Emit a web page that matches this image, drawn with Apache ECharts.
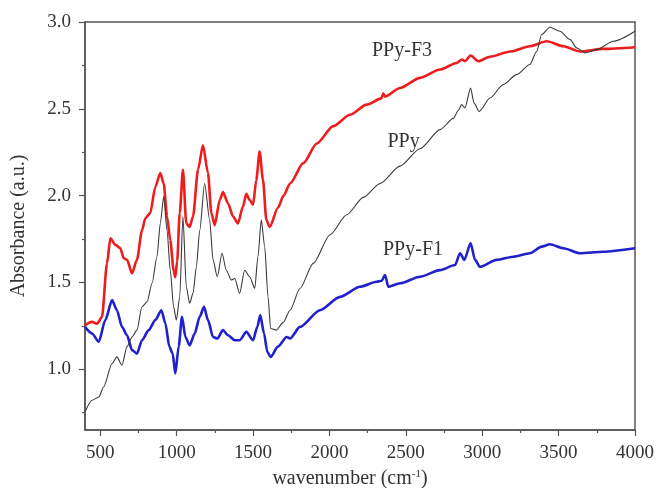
<!DOCTYPE html>
<html>
<head>
<meta charset="utf-8">
<script src="https://cdn.jsdelivr.net/npm/echarts@6/dist/echarts.min.js"></script>
<style>
  html, body { margin: 0; padding: 0; background: #fff; }
  #chart { width: 656px; height: 488px; }
</style>
</head>
<body>
<div id="chart"></div>
<script>
// FTIR spectra: wavenumber (cm-1) vs absorbance for three samples
const ppyF3Wn = [400, 446, 479, 511, 544, 566, 599, 631, 653, 675, 708, 740, 773, 795, 827, 860, 893, 915, 937, 958, 980, 991, 1003, 1020, 1041, 1063, 1085, 1107, 1140, 1172, 1205, 1227, 1249, 1282, 1303, 1336, 1369, 1401, 1434, 1456, 1478, 1500, 1521, 1543, 1565, 1587, 1609, 1663, 1700, 1742, 1829, 1917, 2025, 2134, 2244, 2340, 2352, 2364, 2462, 2593, 2724, 2833, 2866, 2888, 2924, 2974, 3051, 3182, 3312, 3422, 3531, 3640, 3792, 4000];
const ppyF3Abs = [1.254, 1.273, 1.262, 1.30, 1.61, 1.754, 1.716, 1.697, 1.64, 1.63, 1.553, 1.63, 1.80, 1.87, 1.90, 2.05, 2.13, 2.07, 1.88, 1.745, 1.57, 1.53, 1.62, 1.90, 2.149, 1.84, 1.82, 1.88, 2.15, 2.29, 2.13, 1.90, 1.83, 1.975, 2.02, 1.956, 1.88, 1.84, 1.937, 2.01, 1.975, 1.947, 2.09, 2.254, 2.09, 1.86, 1.82, 1.93, 2.0, 2.07, 2.187, 2.30, 2.40, 2.466, 2.524, 2.56, 2.59, 2.57, 2.62, 2.678, 2.726, 2.764, 2.784, 2.775, 2.807, 2.774, 2.80, 2.83, 2.86, 2.889, 2.86, 2.83, 2.845, 2.855];

const ppyWn = [400, 446, 490, 522, 577, 609, 642, 675, 708, 740, 773, 806, 839, 871, 893, 915, 937, 958, 980, 998, 1020, 1041, 1063, 1085, 1107, 1129, 1151, 1183, 1216, 1238, 1266, 1297, 1325, 1358, 1380, 1412, 1445, 1478, 1511, 1532, 1554, 1576, 1598, 1615, 1652, 1698, 1742, 1807, 1894, 2004, 2113, 2222, 2331, 2462, 2593, 2724, 2811, 2843, 2866, 2887, 2924, 2946, 2980, 3051, 3138, 3225, 3312, 3356, 3389, 3443, 3509, 3574, 3618, 3672, 3749, 3858, 4000];
const ppyAbs = [0.754, 0.821, 0.84, 0.898, 1.033, 1.071, 1.023, 1.13, 1.186, 1.225, 1.36, 1.388, 1.495, 1.648, 1.84, 1.995, 1.80, 1.57, 1.36, 1.283, 1.417, 1.88, 1.475, 1.38, 1.437, 1.59, 1.80, 2.07, 1.86, 1.63, 1.533, 1.668, 1.57, 1.514, 1.523, 1.437, 1.57, 1.533, 1.466, 1.648, 1.86, 1.706, 1.417, 1.235, 1.225, 1.27, 1.34, 1.465, 1.61, 1.775, 1.89, 1.99, 2.07, 2.17, 2.27, 2.38, 2.445, 2.49, 2.524, 2.505, 2.62, 2.534, 2.485, 2.562, 2.64, 2.697, 2.755, 2.83, 2.928, 2.97, 2.947, 2.90, 2.851, 2.822, 2.841, 2.889, 2.947];

const ppyF1Wn = [400, 446, 490, 533, 577, 609, 642, 675, 708, 740, 773, 817, 860, 900, 926, 952, 974, 991, 1013, 1035, 1057, 1085, 1118, 1151, 1179, 1205, 1238, 1266, 1303, 1336, 1380, 1412, 1456, 1500, 1528, 1547, 1572, 1593, 1615, 1663, 1720, 1742, 1807, 1938, 2069, 2200, 2309, 2342, 2364, 2385, 2462, 2593, 2724, 2822, 2855, 2883, 2924, 2953, 2985, 3094, 3203, 3312, 3389, 3443, 3531, 3640, 3792, 4000];
const ppyF1Abs = [1.244, 1.206, 1.158, 1.283, 1.398, 1.34, 1.244, 1.196, 1.11, 1.09, 1.167, 1.225, 1.283, 1.34, 1.264, 1.13, 1.09, 0.975, 1.13, 1.302, 1.186, 1.138, 1.206, 1.302, 1.36, 1.283, 1.186, 1.177, 1.225, 1.196, 1.167, 1.167, 1.215, 1.167, 1.244, 1.312, 1.206, 1.10, 1.071, 1.13, 1.186, 1.177, 1.244, 1.34, 1.417, 1.475, 1.504, 1.51, 1.543, 1.475, 1.495, 1.533, 1.571, 1.60, 1.668, 1.63, 1.726, 1.63, 1.59, 1.63, 1.648, 1.668, 1.706, 1.72, 1.697, 1.668, 1.677, 1.697];

// Axis ticks
const xMajorTicks = [500, 1000, 1500, 2000, 2500, 3000, 3500, 4000];
const xMinorTicks = [750, 1250, 1750, 2250, 2750, 3250, 3750];
const yMajorTicks = [1.0, 1.5, 2.0, 2.5, 3.0];
const yMinorTicks = [0.75, 1.25, 1.75, 2.25, 2.75];

// Curve labels: [text, wavenumber, absorbance]
const curveLabels = [
  ['PPy-F3', 2475, 2.835],
  ['PPy', 2485, 2.31],
  ['PPy-F1', 2547, 1.69]
];

const zip = (xs, ys) => xs.map((x, i) => [x, ys[i]]);

const FONT = '"Liberation Serif", "DejaVu Serif", serif';
const AXIS_COLOR = '#555';
const TEXT_COLOR = '#333';
const X_MIN = 400, X_MAX = 4000, Y_MIN = 0.65, Y_MAX = 3.0;
const GRID = { left: 85, right: 21, top: 22, bottom: 58 };
const gridW = 656 - GRID.left - GRID.right;
const gridH = 488 - GRID.top - GRID.bottom;

function labelPoint(name) {
  const l = curveLabels.find(c => c[0] === name);
  return {
    symbol: 'circle',
    symbolSize: 1,
    itemStyle: { color: 'rgba(0,0,0,0)' },
    label: {
      show: true, position: 'inside', formatter: l[0],
      color: TEXT_COLOR, fontFamily: FONT, fontSize: 20
    },
    data: [{ coord: [l[1], l[2]] }]
  };
}

const chart = echarts.init(document.getElementById('chart'), null, { renderer: 'canvas' });
chart.setOption({
  animation: false,
  backgroundColor: '#fff',
  grid: Object.assign({
    show: true, borderColor: AXIS_COLOR, borderWidth: 1.5, backgroundColor: 'transparent',
    containLabel: false, outerBoundsMode: 'none'
  }, GRID),
  xAxis: [
    {
      type: 'value', min: X_MIN, max: X_MAX, position: 'bottom',
      name: 'wavenumber (cm{sup|-1})',
      nameLocation: 'middle', nameGap: 39,
      nameTextStyle: {
        fontFamily: FONT, fontSize: 20, color: TEXT_COLOR,
        padding: [0, 20, 0, 0],
        rich: { sup: { fontFamily: FONT, fontSize: 11, color: TEXT_COLOR, verticalAlign: 'top', padding: [0, 0, 9, 0] } }
      },
      axisLine: { show: true, lineStyle: { color: AXIS_COLOR, width: 1.5 } },
      axisTick: { show: true, length: 6, customValues: xMajorTicks, lineStyle: { color: AXIS_COLOR, width: 1.2 } },
      axisLabel: {
        show: true, customValues: xMajorTicks, margin: 14,
        fontFamily: FONT, fontSize: 19, color: TEXT_COLOR,
        formatter: v => String(v)
      },
      splitLine: { show: false }
    },
    {
      // minor ticks along the bottom edge
      type: 'value', min: X_MIN, max: X_MAX, position: 'top', offset: -gridH,
      axisLine: { show: false },
      axisTick: { show: true, inside: true, length: 3, customValues: xMinorTicks, lineStyle: { color: AXIS_COLOR, width: 1.2 } },
      axisLabel: { show: false },
      splitLine: { show: false }
    }
  ],
  yAxis: [
    {
      type: 'value', min: Y_MIN, max: Y_MAX, position: 'left',
      name: 'Absorbance (a.u.)',
      nameLocation: 'middle', nameGap: 56,
      nameTextStyle: { fontFamily: FONT, fontSize: 20, color: TEXT_COLOR },
      axisLine: { show: true, lineStyle: { color: AXIS_COLOR, width: 1.5 } },
      axisTick: { show: true, length: 6, customValues: yMajorTicks, lineStyle: { color: AXIS_COLOR, width: 1.2 } },
      axisLabel: {
        show: true, customValues: yMajorTicks, margin: 14,
        fontFamily: FONT, fontSize: 19, color: TEXT_COLOR,
        formatter: v => v.toFixed(1)
      },
      splitLine: { show: false }
    },
    {
      // minor ticks along the left edge
      type: 'value', min: Y_MIN, max: Y_MAX, position: 'right', offset: -gridW,
      axisLine: { show: false },
      axisTick: { show: true, inside: true, length: 3, customValues: yMinorTicks, lineStyle: { color: AXIS_COLOR, width: 1.2 } },
      axisLabel: { show: false },
      splitLine: { show: false }
    }
  ],
  series: [
    {
      name: 'PPy-F3', type: 'line', data: zip(ppyF3Wn, ppyF3Abs),
      showSymbol: false, smooth: 0.25, smoothMonotone: 'x',
      lineStyle: { color: '#ee1c1c', width: 2.6 },
      markPoint: labelPoint('PPy-F3')
    },
    {
      name: 'PPy-F1', type: 'line', data: zip(ppyF1Wn, ppyF1Abs),
      showSymbol: false, smooth: 0.25, smoothMonotone: 'x',
      lineStyle: { color: '#2020cc', width: 2.6 },
      markPoint: labelPoint('PPy-F1')
    },
    {
      name: 'PPy', type: 'line', data: zip(ppyWn, ppyAbs),
      showSymbol: false, smooth: 0.25, smoothMonotone: 'x',
      lineStyle: { color: '#3a3a3a', width: 1.1 },
      markPoint: labelPoint('PPy')
    }
  ]
});
</script>
</body>
</html>
